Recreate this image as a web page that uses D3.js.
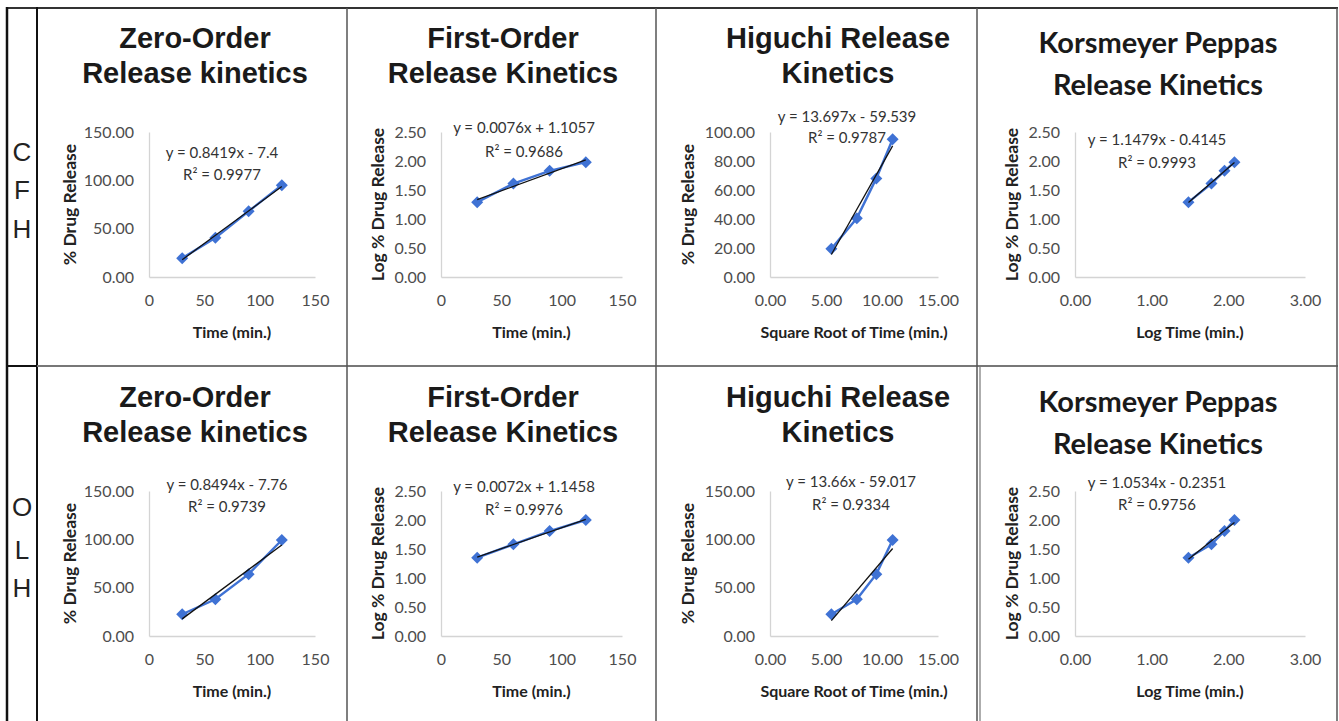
<!DOCTYPE html>
<html>
<head>
<meta charset="utf-8">
<script src="https://cdn.jsdelivr.net/npm/d3@7"></script>
<style>
  body { margin: 0; background: #fff; }
  svg { display: block; }
</style>
</head>
<body>
<svg id="chart" width="1339" height="721"></svg>
<script>
// ---- data ----
const rowLabels = ["CFH", "OLH"];

const timeMin = [30, 60, 90, 120];
const sqrtTime = [5.48, 7.75, 9.49, 10.95];
const logTime = [1.48, 1.78, 1.95, 2.08];

const cfhRelease = [19.5, 40.5, 68.0, 95.0];
const cfhLogRelease = [1.29, 1.61, 1.83, 1.98];
const olhRelease = [22.5, 38.0, 64.0, 99.3];
const olhLogRelease = [1.35, 1.58, 1.81, 2.00];

const cfhSlopes = [0.8419, 0.0076, 13.697, 1.1479];
const cfhIntercepts = [-7.4, 1.1057, -59.539, -0.4145];
const cfhEquations = ["y = 0.8419x - 7.4", "y = 0.0076x + 1.1057", "y = 13.697x - 59.539", "y = 1.1479x - 0.4145"];
const cfhR2 = ["R\u00b2 = 0.9977", "R\u00b2 = 0.9686", "R\u00b2 = 0.9787", "R\u00b2 = 0.9993"];

const olhSlopes = [0.8494, 0.0072, 13.66, 1.0534];
const olhIntercepts = [-7.76, 1.1458, -59.017, -0.2351];
const olhEquations = ["y = 0.8494x - 7.76", "y = 0.0072x + 1.1458", "y = 13.66x - 59.017", "y = 1.0534x - 0.2351"];
const olhR2 = ["R\u00b2 = 0.9739", "R\u00b2 = 0.9976", "R\u00b2 = 0.9334", "R\u00b2 = 0.9756"];

const timeTicks = [0, 50, 100, 150];
const sqrtTimeTicks = [0, 5, 10, 15];
const logTimeTicks = [0, 1, 2, 3];
const releaseTicks = [0, 50, 100, 150];
const cfhHiguchiTicks = [0, 20, 40, 60, 80, 100];
const logReleaseTicks = [0, 0.5, 1, 1.5, 2, 2.5];

const modelTitles = [
  ["Zero-Order", "Release kinetics"],
  ["First-Order", "Release Kinetics"],
  ["Higuchi Release", "Kinetics"],
  ["Korsmeyer Peppas", "Release Kinetics"]
];
const xTitles = ["Time (min.)", "Time (min.)", "Square Root of Time (min.)", "Log Time (min.)"];
const yTitles = ["% Drug Release", "Log % Drug Release", "% Drug Release", "Log % Drug Release"];

// ---- layout ----
const rowOffset = [0, 359];
const plotTop = 132, plotBottom = 277;
const colPlotX = [[149, 315], [441, 622], [770, 938], [1075, 1305]];
const colTitleX = [195, 503, 838, 1158];
const colYTitleX = [70, 378, 688, 1012];
const eqPos = [
  [[222, 153, 175], [524, 128, 152], [847, 117, 138], [1157, 140, 163]],
  [[227, 126, 148], [524, 128, 151], [851, 123, 146], [1157, 124, 146]]
];

const blue = "#3f72d4";
const uiFont = "Lato, 'Open Sans', sans-serif";
const titleFont = "'Liberation Sans', Arial, Helvetica, sans-serif";

const d3Svg = d3.select("#chart");
d3Svg.append("rect").attr("width", 1339).attr("height", 721).attr("fill", "#fff");

// table lines
let grid = d3Svg.append("g").attr("fill", "none");
grid.append("line").attr("x1", 6).attr("x2", 1338).attr("y1", 8).attr("y2", 8).attr("stroke", "#333").attr("stroke-width", 2);
grid.append("line").attr("x1", 7).attr("x2", 7).attr("y1", 7).attr("y2", 721).attr("stroke", "#111").attr("stroke-width", 2.5);
grid.append("line").attr("x1", 37).attr("x2", 37).attr("y1", 7).attr("y2", 721).attr("stroke", "#111").attr("stroke-width", 2);
grid.append("line").attr("x1", 7).attr("x2", 37).attr("y1", 366).attr("y2", 366).attr("stroke", "#111").attr("stroke-width", 2);
grid.append("line").attr("x1", 37).attr("x2", 1338).attr("y1", 366).attr("y2", 366).attr("stroke", "#777").attr("stroke-width", 2);
[347, 656, 977, 1337].forEach(function (x) {
  grid.append("line").attr("x1", x).attr("x2", x).attr("y1", 8).attr("y2", 721).attr("stroke", "#555").attr("stroke-width", 1.5);
});
grid.append("line").attr("x1", 980).attr("x2", 980).attr("y1", 366).attr("y2", 721).attr("stroke", "#777").attr("stroke-width", 1.2);

// row labels, letters stacked
const letterY = [[152, 190, 229], [507, 550, 588]];
rowLabels.forEach(function (label, r) {
  label.split("").forEach(function (ch, i) {
    d3Svg.append("text")
      .attr("x", 22)
      .attr("y", letterY[r][i])
      .attr("dy", "0.36em")
      .attr("text-anchor", "middle")
      .attr("font-family", titleFont)
      .attr("font-size", "26px")
      .attr("fill", "#222")
      .text(ch);
  });
});

function drawPanel(r, c, xVals, yVals, xTicks, yTicks, slope, intercept, eq, r2) {
  let oy = rowOffset[r];
  let g = d3Svg.append("g").attr("transform", "translate(0," + oy + ")");

  let x = d3.scaleLinear().domain([0, xTicks[xTicks.length - 1]]).range(colPlotX[c]);
  let y = d3.scaleLinear().domain([0, yTicks[yTicks.length - 1]]).range([plotBottom, plotTop]);
  let xFmt = c < 2 ? d3.format("d") : d3.format(".2f");

  // title
  let korsmeyer = c === 3;
  let tY = korsmeyer ? [53, 95] : [48, 83];
  modelTitles[c].forEach(function (line, i) {
    g.append("text")
      .attr("x", colTitleX[c])
      .attr("y", tY[i])
      .attr("text-anchor", "middle")
      .attr("font-family", korsmeyer ? uiFont : titleFont)
      .attr("font-weight", "bold")
      .attr("font-size", korsmeyer ? "29px" : "29px")
      .attr("fill", "#1a1a1a")
      .text(line);
  });

  // axes
  let xAxis = g.append("g")
    .attr("transform", "translate(0," + plotBottom + ")")
    .call(d3.axisBottom(x).tickValues(xTicks).tickFormat(xFmt).tickSize(0).tickPadding(18));
  let yAxis = g.append("g")
    .attr("transform", "translate(" + colPlotX[c][0] + ",0)")
    .call(d3.axisLeft(y).tickValues(yTicks).tickFormat(d3.format(".2f")).tickSize(0).tickPadding(15));
  [xAxis, yAxis].forEach(function (a) {
    a.attr("font-family", uiFont).attr("font-size", "16px");
    a.select(".domain").attr("stroke", "#d4d4d4").attr("stroke-width", 1.3);
    a.selectAll("text").attr("fill", "#4d4d4d");
  });

  // axis titles
  g.append("text")
    .attr("x", (colPlotX[c][0] + colPlotX[c][1]) / 2)
    .attr("y", 338)
    .attr("text-anchor", "middle")
    .attr("font-family", uiFont)
    .attr("font-weight", "bold")
    .attr("font-size", "16px")
    .attr("fill", "#222")
    .text(xTitles[c]);
  g.append("text")
    .attr("transform", "translate(" + colYTitleX[c] + "," + ((plotTop + plotBottom) / 2) + ") rotate(-90)")
    .attr("dy", "0.35em")
    .attr("text-anchor", "middle")
    .attr("font-family", uiFont)
    .attr("font-weight", "bold")
    .attr("font-size", "17.5px")
    .attr("fill", "#222")
    .text(yTitles[c]);

  // series
  let pts = xVals.map(function (v, i) { return [v, yVals[i]]; });
  let line = d3.line().x(function (d) { return x(d[0]); }).y(function (d) { return y(d[1]); });
  g.append("path").datum(pts)
    .attr("d", line)
    .attr("fill", "none")
    .attr("stroke", blue)
    .attr("stroke-width", 2.4);
  g.selectAll(".pt").data(pts).enter().append("path")
    .attr("class", "pt")
    .attr("d", d3.symbol(d3.symbolSquare, 72))
    .attr("transform", function (d) { return "translate(" + x(d[0]) + "," + y(d[1]) + ") rotate(45)"; })
    .attr("fill", blue);

  // linear trendline
  let x0 = xVals[0], x1 = xVals[xVals.length - 1];
  let trend = [[x0, slope * x0 + intercept], [x1, slope * x1 + intercept]];
  g.append("path").datum(trend)
    .attr("d", line)
    .attr("fill", "none")
    .attr("stroke", "#111")
    .attr("stroke-width", 1.3);

  // equation
  let p = eqPos[r][c];
  g.append("text").attr("x", p[0]).attr("y", p[1]).attr("dy", "0.35em")
    .attr("text-anchor", "middle").attr("font-family", uiFont).attr("font-size", "15px")
    .attr("fill", "#333").text(eq);
  g.append("text").attr("x", p[0]).attr("y", p[2]).attr("dy", "0.35em")
    .attr("text-anchor", "middle").attr("font-family", uiFont).attr("font-size", "15px")
    .attr("fill", "#333").text(r2);
}

// CFH row
drawPanel(0, 0, timeMin, cfhRelease, timeTicks, releaseTicks, cfhSlopes[0], cfhIntercepts[0], cfhEquations[0], cfhR2[0]);
drawPanel(0, 1, timeMin, cfhLogRelease, timeTicks, logReleaseTicks, cfhSlopes[1], cfhIntercepts[1], cfhEquations[1], cfhR2[1]);
drawPanel(0, 2, sqrtTime, cfhRelease, sqrtTimeTicks, cfhHiguchiTicks, cfhSlopes[2], cfhIntercepts[2], cfhEquations[2], cfhR2[2]);
drawPanel(0, 3, logTime, cfhLogRelease, logTimeTicks, logReleaseTicks, cfhSlopes[3], cfhIntercepts[3], cfhEquations[3], cfhR2[3]);

// OLH row
drawPanel(1, 0, timeMin, olhRelease, timeTicks, releaseTicks, olhSlopes[0], olhIntercepts[0], olhEquations[0], olhR2[0]);
drawPanel(1, 1, timeMin, olhLogRelease, timeTicks, logReleaseTicks, olhSlopes[1], olhIntercepts[1], olhEquations[1], olhR2[1]);
drawPanel(1, 2, sqrtTime, olhRelease, sqrtTimeTicks, releaseTicks, olhSlopes[2], olhIntercepts[2], olhEquations[2], olhR2[2]);
drawPanel(1, 3, logTime, olhLogRelease, logTimeTicks, logReleaseTicks, olhSlopes[3], olhIntercepts[3], olhEquations[3], olhR2[3]);
</script>
</body>
</html>
